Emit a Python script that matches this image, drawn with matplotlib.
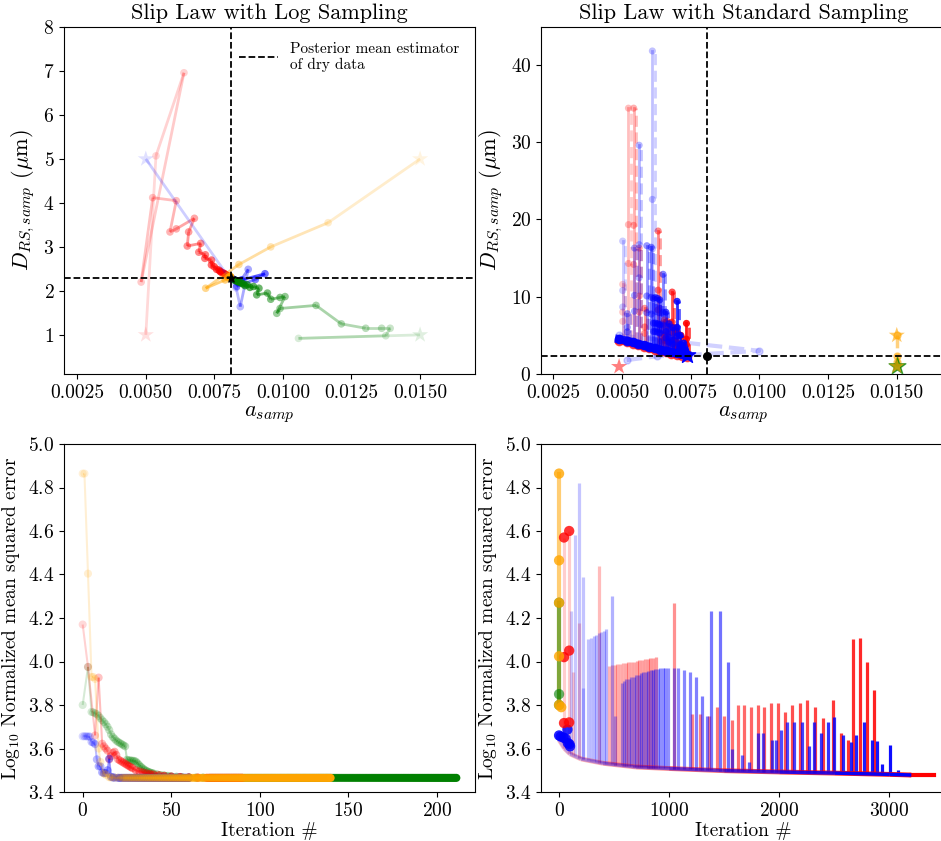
import numpy as np
import matplotlib.pyplot as plt
from matplotlib.collections import LineCollection
from matplotlib.colors import to_rgba

plt.rcParams['font.family'] = 'serif'
plt.rcParams['font.serif'] = ['cmr10']
plt.rcParams['mathtext.fontset'] = 'cm'
plt.rcParams['axes.formatter.use_mathtext'] = True
plt.rcParams['axes.unicode_minus'] = False

# posterior mean estimator of the dry data
post_a = 0.00811
post_D = 2.30

# ---- log sampling: (a, D) trajectories, first point is the start
red_log_a = [0.00501, 0.00538, 0.00640, 0.00484, 0.00526, 0.00612, 0.00589, 0.00612, 0.00678,
             0.00657, 0.00652, 0.00701, 0.00694, 0.00718, 0.00716, 0.00740, 0.00740, 0.00750,
             0.00759, 0.00768, 0.00777, 0.00772, 0.00785, 0.00790, 0.00795, 0.00800, 0.00805]
red_log_D = [1.00, 5.07, 6.96, 2.20, 4.12, 4.05, 3.34, 3.41, 3.65,
             3.34, 3.02, 3.08, 2.88, 2.82, 2.74, 2.70, 2.59, 2.55,
             2.49, 2.47, 2.42, 2.44, 2.40, 2.38, 2.36, 2.34, 2.32]
blue_log_a = [0.00501, 0.00830, 0.00845, 0.00874, 0.00832, 0.00900, 0.00935, 0.00850, 0.00835, 0.00825, 0.00818]
blue_log_D = [5.00, 2.07, 1.64, 2.49, 2.10, 2.26, 2.39, 2.25, 2.20, 2.25, 2.27]
green_log_a = [0.0150, 0.01057, 0.01375, 0.01391, 0.01360, 0.01302, 0.01213, 0.01121, 0.00990, 0.00978,
               0.01008, 0.00990, 0.00956, 0.00944, 0.00905, 0.00913, 0.00893, 0.00880, 0.00870, 0.00862,
               0.00855, 0.00848, 0.00840, 0.00833, 0.00826]
green_log_D = [1.00, 0.92, 0.98, 1.15, 1.15, 1.15, 1.25, 1.67, 1.60, 1.49,
               1.87, 1.85, 1.81, 1.95, 1.91, 2.06, 2.10, 2.08, 2.14, 2.12,
               2.16, 2.18, 2.20, 2.22, 2.24]
orange_log_a = [0.0150, 0.01165, 0.00956, 0.00840, 0.00719, 0.00790, 0.00800, 0.00805, 0.00808, 0.00810]
orange_log_D = [5.00, 3.55, 3.00, 2.60, 2.06, 2.25, 2.30, 2.32, 2.33, 2.32]

# ---- standard sampling: (a, D) band of accepted samples and vertical excursions
std_band_a = [0.00490, 0.00520, 0.00540, 0.00560, 0.00580, 0.00600, 0.00620, 0.00640,
              0.00660, 0.00680, 0.00700, 0.00720, 0.00737]
std_band_D = [4.5, 4.3, 4.1, 3.9, 3.7, 3.5, 3.3, 3.15, 3.0, 2.85, 2.7, 2.55, 2.45]
std_red_spike_a = [0.00503, 0.00524, 0.00543, 0.00563, 0.00583, 0.00632, 0.00645, 0.00655,
                   0.00665, 0.00683, 0.00690, 0.00700, 0.00715, 0.00735]
std_red_spike_D = [11.6, 34.4, 34.4, 16.3, 8.5, 18.5, 6.5, 7.0, 6.8, 10.6, 6.0, 5.5, 5.0, 6.55]
std_blue_spike_a = [0.00503, 0.00611, 0.00563, 0.00546, 0.00520, 0.00591, 0.00607, 0.00650, 0.00615,
                    0.00622, 0.00630, 0.00638, 0.00660, 0.00672, 0.00685, 0.00701, 0.00712, 0.00725]
std_blue_spike_D = [17.2, 41.8, 29.6, 16.3, 7.8, 16.6, 16.4, 12.9, 9.8,
                    9.9, 9.8, 9.6, 8.0, 6.5, 6.0, 9.4, 5.0, 4.0]
std_blue_detour_a = [0.00490, 0.01000, 0.00737]
std_blue_detour_D = [5.0, 3.0, 2.45]
std_blue_low_a = [0.00518, 0.00628, 0.00737]
std_blue_low_D = [1.8, 2.3, 2.45]
std_orange_a = [0.0150, 0.0150, 0.0150, 0.0150]
std_orange_D = [5.0, 2.3, 1.5, 1.0]

# ---- log sampling: error history
green_iter = [0, 3, 5, 6, 7, 8, 9, 10, 11, 12, 13, 14, 15, 16, 17, 18, 19, 20, 21, 22, 23, 24,
              25, 26, 27, 28, 29, 30, 31, 32, 33, 34, 35, 36, 37, 38, 39, 40,
              42, 44, 46, 48, 50, 53, 56, 60, 64, 68, 72]
green_err = [3.80, 3.975, 3.768, 3.766, 3.762, 3.758, 3.750, 3.740, 3.730, 3.722, 3.712, 3.700,
             3.685, 3.665, 3.653, 3.645, 3.636, 3.630, 3.625, 3.620, 3.615, 3.610,
             3.548, 3.546, 3.545, 3.544, 3.543, 3.540, 3.532, 3.523, 3.515, 3.508,
             3.502, 3.497, 3.493, 3.490, 3.487, 3.485,
             3.481, 3.478, 3.476, 3.474, 3.472, 3.470, 3.468, 3.467, 3.466, 3.466, 3.465]
red_iter = [0, 3, 7, 9, 11, 12, 13, 14, 15, 16, 17, 18, 19, 20, 21, 22, 23, 24, 25, 26, 27, 28,
            30, 32, 34, 36, 38, 40, 43, 46, 50, 55, 60, 65, 70]
red_err = [4.17, 3.975, 3.66, 3.926, 3.622, 3.61, 3.60, 3.59, 3.55, 3.565, 3.58, 3.585, 3.57,
           3.55, 3.545, 3.54, 3.535, 3.53, 3.525, 3.52, 3.515, 3.51,
           3.50, 3.495, 3.49, 3.486, 3.483, 3.48, 3.477, 3.474, 3.471, 3.469, 3.467, 3.466, 3.465]
orange_iter = [0, 1, 3, 5, 6, 7, 9, 10, 12, 13, 15, 16, 18, 20, 22]
orange_err = [4.864, 4.864, 4.404, 3.929, 3.929, 3.92, 3.60, 3.538, 3.485, 3.48, 3.468, 3.467,
              3.466, 3.466, 3.465]
blue_iter = [0, 1, 2, 3, 4, 5, 6, 7, 8, 9, 10, 11, 12, 13, 14, 15, 16, 17, 18, 20]
blue_err = [3.656, 3.656, 3.656, 3.655, 3.655, 3.63, 3.627, 3.62, 3.55, 3.518, 3.518, 3.49,
            3.487, 3.487, 3.50, 3.553, 3.470, 3.467, 3.466, 3.465]
converged_err = 3.465
last_iter = {'green': 211, 'red': 90, 'orange': 140, 'blue': 60}

# ---- standard sampling: error history
base_iter = [0, 50, 100, 200, 400, 700, 1000, 1500, 2000, 2500, 3000, 3200]
base_err = [3.64, 3.60, 3.575, 3.552, 3.532, 3.515, 3.508, 3.498, 3.492, 3.487, 3.481, 3.478]
red_end_iter = 3410
blue_end_iter = 3200
red_spike_iter = [45, 92, 130, 185, 367, 456, 480, 505, 530, 555, 580, 605, 630, 655, 680, 705,
                  730, 755, 780, 805, 830, 855, 880, 1041, 1208, 1284, 1360, 1436, 1497, 1572,
                  1621, 1679, 1740, 1807, 1862, 1923, 1990, 2054, 2112, 2191, 2252, 2325, 2395,
                  2486, 2562, 2623, 2668, 2735, 2799, 2857]
red_spike_top = [4.57, 4.60, 3.95, 4.175, 4.44, 3.98, 3.982, 3.985, 3.987, 3.99, 3.992, 3.995,
                 3.997, 4.0, 4.0, 4.003, 4.005, 4.007, 4.01, 4.012, 4.015, 4.017, 4.02, 4.27,
                 3.76, 3.76, 3.75, 3.79, 3.75, 3.73, 3.80, 3.80, 3.79, 3.80, 3.79, 3.81, 3.81,
                 3.77, 3.80, 3.81, 3.825, 3.79, 3.74, 3.825, 3.67, 3.64, 4.105, 4.11, 4.00, 3.87]
blue_spike_iter = [106, 146, 185, 216, 222, 267, 290, 313, 336, 359, 382, 405, 427, 480, 505,
                   568, 590, 612, 634, 656, 678, 700, 722, 744, 766, 788, 810, 832, 854, 876,
                   898, 920, 942, 964, 986, 1041, 1081, 1136, 1188, 1243, 1297, 1340, 1383,
                   1458, 1537, 1574, 1659, 1726, 1808, 1857, 1930, 1972, 2015, 2070, 2137,
                   2204, 2274, 2313, 2380, 2447, 2502, 2578, 2654, 2700, 2770, 2846, 2891,
                   2937, 3004, 3080]
blue_spike_top = [4.23, 4.58, 4.82, 4.39, 3.88, 4.105, 4.11, 4.115, 4.12, 4.13, 4.135, 4.14,
                  4.15, 4.30, 3.75, 3.90, 3.91, 3.92, 3.92, 3.93, 3.93, 3.94, 3.94, 3.945,
                  3.95, 3.95, 3.955, 3.96, 3.96, 3.965, 3.965, 3.97, 3.97, 3.97, 3.97, 3.97,
                  3.97, 3.96, 3.95, 3.93, 3.84, 3.75, 4.23, 4.23, 4.00, 3.60, 3.57, 3.54,
                  3.67, 3.67, 3.64, 3.64, 3.685, 3.72, 3.72, 3.72, 3.61, 3.72, 3.67, 3.72,
                  3.745, 3.66, 3.63, 3.66, 3.72, 3.64, 3.635, 3.53, 3.615, 3.50]
early_red_iter = [45, 92, 92, 45, 45, 92]
early_red_err = [4.57, 4.60, 4.05, 4.02, 3.717, 3.72]
early_blue_iter = [0, 15, 40, 76, 60, 80, 95, 100]
early_blue_err = [3.66, 3.655, 3.65, 3.687, 3.645, 3.625, 3.62, 3.61]
early_orange_iter = [0, 0, 0, 0, 0, 20]
early_orange_err = [4.864, 4.465, 4.27, 4.024, 3.80, 3.79]
early_green_iter = [0, 0, 0]
early_green_err = [4.27, 3.85, 3.80]


def fading_path(ax, xs, ys, color, alphas, lw=2, s=30, ls='-', star=True, z=2):
    xs = np.asarray(xs, float)
    ys = np.asarray(ys, float)
    rgba = np.array([to_rgba(color, a) for a in alphas])
    pts = np.column_stack([xs, ys])
    segs = np.stack([pts[:-1], pts[1:]], axis=1)
    ax.add_collection(LineCollection(segs, colors=rgba[1:], linewidths=lw,
                                     linestyles=ls, zorder=z))
    if star:
        ax.scatter(xs[1:], ys[1:], s=s, c=rgba[1:], edgecolors='none', zorder=z)
        ax.scatter(xs[:1], ys[:1], s=150, marker='*', c=rgba[:1], edgecolors='none', zorder=z)
    else:
        ax.scatter(xs, ys, s=s, c=rgba, edgecolors='none', zorder=z)


W, H = 941, 841
fig = plt.figure(figsize=(W / 100, H / 100), dpi=100)


def rect(l, t, r, b):
    return [l / W, 1 - b / H, (r - l) / W, (b - t) / H]


ax1 = fig.add_axes(rect(64, 27, 475, 374))
ax2 = fig.add_axes(rect(541, 27, 946, 374))
ax3 = fig.add_axes(rect(64, 444, 475, 792))
ax4 = fig.add_axes(rect(541, 444, 946, 792))

# ---------------- top left
for a_, d_, c in [(red_log_a, red_log_D, 'red'), (blue_log_a, blue_log_D, 'blue'),
                  (green_log_a, green_log_D, 'green'), (orange_log_a, orange_log_D, 'orange')]:
    n = len(a_)
    fading_path(ax1, a_, d_, c, np.linspace(0.12, 0.85, n), lw=2, s=30)
ax1.scatter([post_a], [post_D], marker='*', s=40, c='k', zorder=5)
ax1.axvline(post_a, color='k', ls='--', lw=1.3, zorder=4)
ax1.axhline(post_D, color='k', ls='--', lw=1.3, zorder=4, label='Posterior mean estimator\nof dry data')
ax1.set_xlim(0.00203, 0.0170)
ax1.set_ylim(0.11, 8)
ax1.set_xticks([0.0025, 0.0050, 0.0075, 0.0100, 0.0125, 0.0150])
ax1.set_xticklabels(['0.0025', '0.0050', '0.0075', '0.0100', '0.0125', '0.0150'])
ax1.set_yticks([1, 2, 3, 4, 5, 6, 7, 8])
ax1.set_title('Slip Law with Log Sampling', fontsize=16)
ax1.set_xlabel('$a_{samp}$', fontsize=16, labelpad=2)
ax1.set_ylabel(r'$D_{RS,samp}$ ($\mu$m)', fontsize=16)
ax1.legend(loc='upper right', frameon=False, fontsize=11, handlelength=2.6,
           borderaxespad=0.6)

# ---------------- top right
band_a = np.asarray(std_band_a)
band_D = np.asarray(std_band_D)
ax2.plot(std_blue_detour_a, std_blue_detour_D, color='blue', alpha=0.18, lw=3, ls='--', marker='o', ms=5)
ax2.plot(std_blue_low_a, std_blue_low_D, color='blue', alpha=0.18, lw=3, ls='--', marker='o', ms=5)
ax2.plot(band_a, band_D - 0.2, color='red', alpha=0.6, lw=5, marker='o', ms=6)
for spikes_a, spikes_D, c in [(std_red_spike_a, std_red_spike_D, 'red'),
                              (std_blue_spike_a, std_blue_spike_D, 'blue')]:
    n = len(spikes_a)
    alphas = np.linspace(0.2, 0.9, n)
    for a_, top, al in zip(spikes_a, spikes_D, alphas):
        base = np.interp(a_, band_a, band_D)
        ax2.plot([a_, a_], [base, top], color=c, alpha=al, lw=2, zorder=2)
        ax2.plot([a_ + 0.00008, a_ + 0.00008], [base, top], color=c, alpha=al * 0.8, lw=2,
                 ls=(0, (4, 2)), zorder=2)
        ax2.scatter([a_, a_, a_], [top, (top + base) / 2, (top + 2 * base) / 3], s=26, color=c,
                    alpha=al, edgecolors='none', zorder=2)
ax2.plot(band_a, band_D, color='blue', alpha=0.85, lw=6, marker='o', ms=6, zorder=3)
ax2.scatter([std_band_a[0]], [0.95], marker='*', s=150, color='red', alpha=0.5, edgecolors='none')
ax2.scatter([std_band_a[-1]], [std_band_D[-1]], marker='*', s=150, color='blue', zorder=4)
ax2.plot(std_orange_a, std_orange_D, color='orange', alpha=0.5, lw=2.5, ls='--', marker='o', ms=5)
ax2.scatter([std_orange_a[-1]], [std_orange_D[-1]], marker='*', s=160, color='green', alpha=0.7, zorder=3)
ax2.scatter([std_orange_a[0], std_orange_a[-1]], [std_orange_D[0], std_orange_D[-1]], marker='*',
            s=150, color='orange', alpha=0.6, edgecolors='none', zorder=4)
ax2.axvline(post_a, color='k', ls='--', lw=1.3, zorder=5)
ax2.axhline(post_D, color='k', ls='--', lw=1.3, zorder=5)
ax2.scatter([post_a], [post_D], s=30, c='k', zorder=6)
ax2.set_xlim(0.00206, 0.01679)
ax2.set_ylim(0, 44.9)
ax2.set_xticks([0.0025, 0.0050, 0.0075, 0.0100, 0.0125, 0.0150])
ax2.set_xticklabels(['0.0025', '0.0050', '0.0075', '0.0100', '0.0125', '0.0150'])
ax2.set_yticks([0, 10, 20, 30, 40])
ax2.set_title('Slip Law with Standard Sampling', fontsize=16)
ax2.set_xlabel('$a_{samp}$', fontsize=16, labelpad=2)
ax2.set_ylabel(r'$D_{RS,samp}$ ($\mu$m)', fontsize=16)

# ---------------- bottom left
for name, it, er, c in [('green', green_iter, green_err, 'green'), ('red', red_iter, red_err, 'red'),
                        ('blue', blue_iter, blue_err, 'blue'),
                        ('orange', orange_iter, orange_err, 'orange')]:
    tail = np.arange(it[-1] + 1, last_iter[name] + 1)
    xs = np.concatenate([it, tail])
    ys = np.concatenate([er, np.full(len(tail), converged_err)])
    alphas = 0.15 + 0.85 * xs / last_iter[name]
    fading_path(ax3, xs, ys, c, alphas, lw=1.5, s=34, star=False)
ax3.set_xlim(-10.55, 221.55)
ax3.set_ylim(3.4, 5.0)
ax3.set_yticks(np.round(np.arange(3.4, 5.01, 0.2), 1))
ax3.set_xticks([0, 50, 100, 150, 200])
ax3.set_xlabel('Iteration #', fontsize=14, labelpad=2)
ax3.set_ylabel('Log$_{10}$ Normalized mean squared error', fontsize=14)

# ---------------- bottom right
base_x = np.asarray(base_iter, float)
base_y = np.asarray(base_err, float)
for it, top, c, end in [(red_spike_iter, red_spike_top, 'red', red_end_iter),
                        (blue_spike_iter, blue_spike_top, 'blue', blue_end_iter)]:
    it = np.asarray(it, float)
    bottoms = np.interp(it, base_x, base_y)
    cols = [to_rgba(c, 0.18 + 0.82 * i / end) for i in it]
    ax4.vlines(it, bottoms, top, colors=cols, lw=2.3, zorder=2)
ax4.plot([base_iter[-1], red_end_iter], [base_err[-1] - 0.001, base_err[-1] - 0.001],
         color='red', lw=3, zorder=3)
segs = np.stack([np.column_stack([base_x[:-1], base_y[:-1]]),
                 np.column_stack([base_x[1:], base_y[1:]])], axis=1)
ax4.add_collection(LineCollection(segs, colors=[to_rgba('red', 0.2 + 0.8 * x / red_end_iter) for x in base_x[1:]],
                                  linewidths=3.5, zorder=3))
ax4.add_collection(LineCollection(segs, colors=[to_rgba('blue', 0.2 + 0.8 * x / blue_end_iter) for x in base_x[1:]],
                                  linewidths=2.5, zorder=3))
ax4.plot(early_orange_iter[:5], early_orange_err[:5], color='orange', alpha=0.55, lw=3, zorder=4)
ax4.plot(early_green_iter, early_green_err, color='green', alpha=0.5, lw=3, zorder=4)
ax4.scatter(early_blue_iter, early_blue_err, s=55, color='blue', alpha=0.85, edgecolors='none', zorder=5)
ax4.scatter(early_red_iter, early_red_err, s=55, color='red', alpha=0.8, edgecolors='none', zorder=5)
ax4.scatter(early_green_iter, early_green_err, s=55, color='green', alpha=0.6, edgecolors='none', zorder=5)
ax4.scatter(early_orange_iter, early_orange_err, s=55, color='orange', alpha=0.8, edgecolors='none', zorder=6)
ax4.set_xlim(-164, 3515)
ax4.set_ylim(3.4, 5.0)
ax4.set_yticks(np.round(np.arange(3.4, 5.01, 0.2), 1))
ax4.set_xticks([0, 1000, 2000, 3000])
ax4.set_xlabel('Iteration #', fontsize=14, labelpad=2)
ax4.set_ylabel('Log$_{10}$ Normalized mean squared error', fontsize=14)

for ax in (ax1, ax2, ax3, ax4):
    ax.tick_params(labelsize=14)

fig.savefig('out.png', dpi=100)
